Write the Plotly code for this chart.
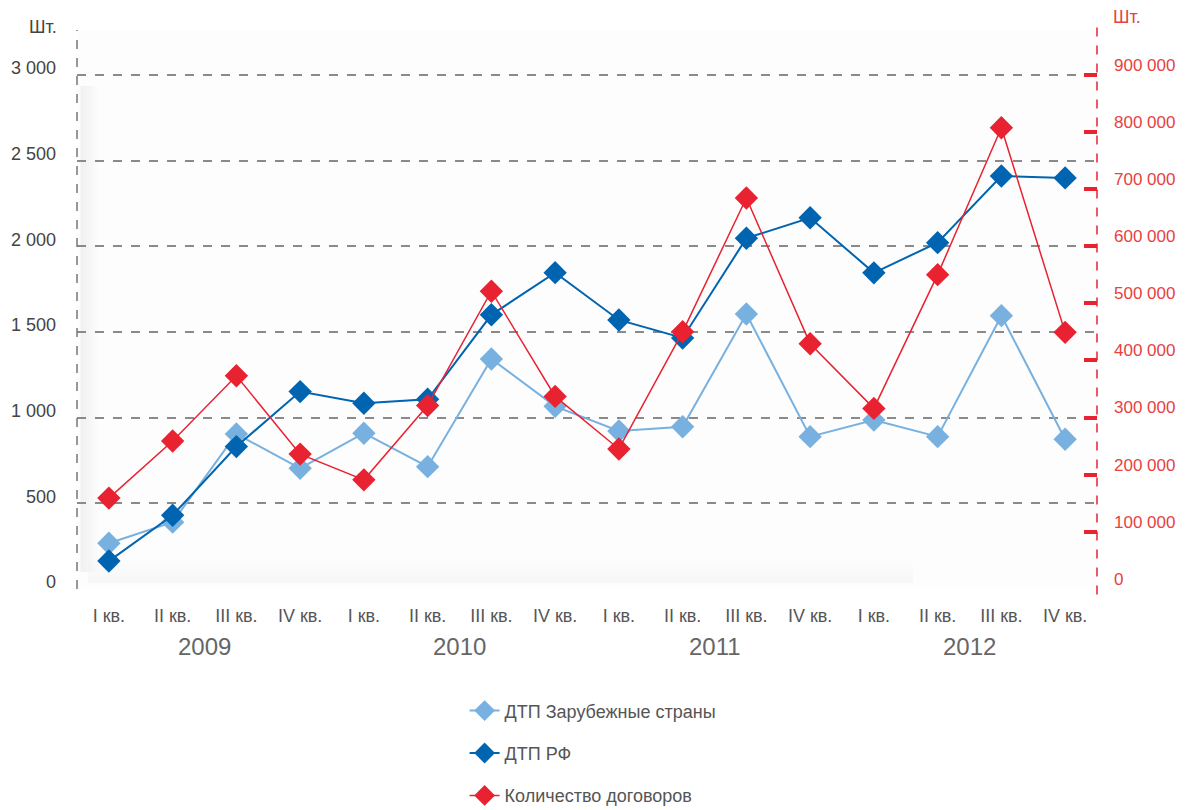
import plotly.graph_objects as go

quarters = ["I кв.", "II кв.", "III кв.", "IV кв."] * 4
years = ["2009", "2010", "2011", "2012"]

dtp_foreign = [267, 390, 905, 704, 909, 714, 1342, 1066, 922, 947, 1605, 889, 986, 889, 1595, 874]
dtp_rf = [163, 430, 831, 1152, 1084, 1107, 1600, 1846, 1570, 1465, 2047, 2166, 1845, 2021, 2410, 2399]
contracts = [159000, 259000, 373000, 236000, 191000, 321000, 521000, 337000, 245000, 450000,
             684000, 429000, 316000, 550000, 807000, 449000]

left_ticks = [0, 500, 1000, 1500, 2000, 2500, 3000]
left_ticktext = ["0", "500", "1 000", "1 500", "2 000", "2 500", "3 000"]
right_ticks = [0, 100000, 200000, 300000, 400000, 500000, 600000, 700000, 800000, 900000]
right_ticktext = ["0", "100 000", "200 000", "300 000", "400 000", "500 000",
                  "600 000", "700 000", "800 000", "900 000"]

names = ["ДТП Зарубежные страны", "ДТП РФ", "Количество договоров"]
c_light = "#78b1e0"
c_dark = "#0064b0"
c_red = "#e82230"

x = list(range(len(quarters)))

fig = go.Figure()
fig.add_trace(go.Scatter(x=x, y=dtp_foreign, name=names[0], mode="lines+markers",
                         line=dict(color=c_light, width=2),
                         marker=dict(symbol="diamond", size=18, color=c_light),
                         legendgroup="a"))
fig.add_trace(go.Scatter(x=x, y=dtp_rf, name=names[1], mode="lines+markers",
                         line=dict(color=c_dark, width=2),
                         marker=dict(symbol="diamond", size=18, color=c_dark),
                         legendgroup="b"))
fig.add_trace(go.Scatter(x=x, y=contracts, name=names[2], mode="lines+markers", yaxis="y2",
                         line=dict(color=c_red, width=1.5),
                         marker=dict(symbol="diamond", size=18, color=c_red),
                         legendgroup="c"))

shapes = []
# subtle shading of plot area (left and bottom shadow)
for i in range(6):
    shapes.append(dict(type="rect", xref="paper", yref="paper",
                       x0=0.003, x1=0.003 + 0.003 * (i + 1), y0=0.03, y1=0.9,
                       fillcolor="rgba(0,0,0,0.008)", line=dict(width=0), layer="below"))
    shapes.append(dict(type="rect", xref="paper", yref="paper",
                       x0=0.01, x1=0.82, y0=0.01, y1=0.01 + 0.007 * (i + 1),
                       fillcolor="rgba(0,0,0,0.005)", line=dict(width=0), layer="below"))
# axis lines (dashed)
shapes.append(dict(type="line", xref="paper", yref="paper", x0=0, x1=0, y0=0, y1=1,
                   line=dict(color="#777777", width=1.5, dash="dash")))
shapes.append(dict(type="line", xref="paper", yref="paper", x0=1, x1=1, y0=-0.01, y1=1.005,
                   line=dict(color=c_red, width=1.5, dash="dash")))

annotations = [
    dict(text="Шт.", xref="paper", yref="paper", x=-0.018, y=1.005, xanchor="right", yanchor="middle",
         showarrow=False, font=dict(size=18, color="#444444")),
    dict(text="Шт.", xref="paper", yref="paper", x=1.014, y=1.023, xanchor="left", yanchor="middle",
         showarrow=False, font=dict(size=18, color="#e8413f")),
]
for i, yr in enumerate(years):
    annotations.append(dict(text=yr, xref="x", yref="paper", x=4 * i + 1.5, y=-0.102,
                            xanchor="center", yanchor="middle", showarrow=False,
                            font=dict(size=24, color="#666666")))

fig.update_layout(
    width=1181, height=802,
    margin=dict(l=69, r=92, t=22, b=221, autoexpand=False),
    paper_bgcolor="white",
    plot_bgcolor="#fdfdfd",
    font=dict(family="Liberation Sans, Arial, sans-serif", color="#555555"),
    showlegend=True,
    legend=dict(x=0.38, y=-0.185, xanchor="left", yanchor="top", orientation="v",
                font=dict(size=18, color="#555555"), tracegroupgap=16,
                bgcolor="rgba(0,0,0,0)"),
    xaxis=dict(range=[-0.5, 15.5], tickvals=x, ticktext=quarters, showgrid=False,
               zeroline=False, showline=False, ticks="", automargin=False,
               tickfont=dict(size=18, color="#555555"),
               ticklabelstandoff=14),
    yaxis=dict(range=[0, 3262], tickvals=left_ticks, ticktext=left_ticktext,
               showgrid=True, gridcolor="#8a8a8a", gridwidth=1.5, griddash="dash",
               zeroline=False, showline=False, ticks="", automargin=False,
               tickfont=dict(size=18, color="#444444"), ticklabelstandoff=20, ticklabelshift=-7),
    yaxis2=dict(range=[0, 978000], overlaying="y", side="right", tickvals=right_ticks,
                ticktext=right_ticktext, showgrid=False, zeroline=False, showline=False,
                ticks="inside", ticklen=13, tickwidth=4, tickcolor=c_red, automargin=False,
                tickfont=dict(size=17, color="#e8413f"), ticklabelstandoff=16, ticklabelshift=-10),
    shapes=shapes,
    annotations=annotations,
)

fig.write_html("out.html")
